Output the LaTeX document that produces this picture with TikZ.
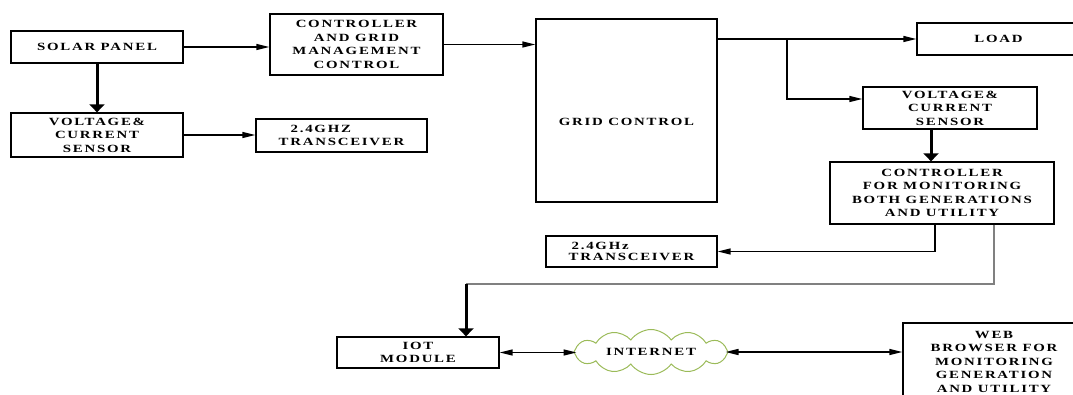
\documentclass[tikz,border=0pt]{standalone}
\usepackage{fontspec}
\setmainfont{Liberation Serif}
\newfontfamily\lblfont{Liberation Serif}[FakeStretch=1.35, LetterSpace=16]
\usetikzlibrary{arrows.meta,shapes.symbols}

\definecolor{cloudgreen}{RGB}{155,187,89}
\definecolor{feedgray}{RGB}{128,128,128}

\tikzset{
  lbl/.style={font=\lblfont\bfseries\fontsize{11}{13.5}\selectfont},
  box/.style={draw, line width=1.3pt, inner sep=0pt, align=center, lbl},
  flow/.style={line width=1.5pt, -{Triangle[length=13pt,width=6pt]}},
  twoway/.style={line width=1.5pt,
    {Triangle[length=13pt,width=6pt]}-{Triangle[length=13pt,width=6pt]}},
  heavy/.style={line width=3pt, -{Triangle[length=8pt,width=15pt]}},
  feed/.style={line width=1.2pt, draw=feedgray},
}

\begin{document}
\begin{tikzpicture}[x=1pt,y=-1pt]
\useasboundingbox (0,0) rectangle (1073,395);

% left column: panel and its sensor chain
\node[box, minimum width=172pt, minimum height=32pt] (solar) at (97,47) {SOLAR PANEL};
\node[box, minimum width=173pt, minimum height=61pt] (ctrl) at (356.5,44.5)
  {CONTROLLER\\AND GRID\\MANAGEMENT\\CONTROL};
\node[box, minimum width=172pt, minimum height=44pt] (sensL) at (97,135)
  {VOLTAGE\&\\CURRENT\\SENSOR};
\node[box, minimum width=171pt, minimum height=33pt, align=left] (txL) at (341.5,135.5)
  {\hspace*{12pt}2.4GHZ\\TRANSCEIVER};

% grid block and its outputs
\node[box, minimum width=181pt, minimum height=183pt] (grid) at (626.5,110.5)
  {\raisebox{-15pt}[0pt][0pt]{GRID CONTROL}};
\node[box, minimum width=163pt, minimum height=32pt] (load) at (998.5,39) {LOAD};
\node[box, minimum width=174pt, minimum height=42pt] (sensR) at (950,108)
  {VOLTAGE\&\\CURRENT\\SENSOR};
\node[box, minimum width=224pt, minimum height=62pt] (mon) at (942,193)
  {CONTROLLER\\FOR MONITORING\\BOTH GENERATIONS\\AND UTILITY};
\node[box, minimum width=171pt, minimum height=31pt, align=left,
  font=\lblfont\bfseries\fontsize{11}{11.5}\selectfont] (txM) at (631.5,251.5)
  {\hspace*{3pt}2.4GHz\\TRANSCEIVER};

% IoT path
\node[box, minimum width=162pt, minimum height=31pt] (iot) at (418,352.5) {IOT\\MODULE};
\node[cloud, cloud puffs=12, cloud puff arc=110, aspect=4.4, draw=cloudgreen, line width=1pt,
  minimum width=154pt, minimum height=36pt, inner sep=0pt, lbl] (net) at (651,352) {INTERNET};
\node[box, minimum width=182pt, minimum height=77pt] (web) at (994,361.5)
  {WEB\\BROWSER FOR\\MONITORING\\GENERATION\\AND UTILITY};

% connectors
\draw[flow] (solar.east) -- (solar.east -| ctrl.west);
\draw[flow] (ctrl.east) -- (ctrl.east -| grid.west);
\draw[heavy] (solar.south) -- (sensL.north);
\draw[flow] (sensL.east) -- (sensL.east -| txL.west);

\draw[flow] (grid.east |- load.west) -- (load.west);
\coordinate (tap) at (787,39);
\draw[flow] (tap) |- ([yshift=9pt]sensR.west);
\draw[heavy] ([xshift=-19pt]sensR.south) -- ([xshift=-19pt]sensR.south |- mon.north);

\draw[flow] ([xshift=-7pt]mon.south) |- (txM.east);

\coordinate (drop) at (466,284);
\draw[feed] ([xshift=52pt]mon.south) |- (drop);
\draw[heavy] (drop) -- (drop |- iot.north);

\draw[twoway] (iot.east) -- ([xshift=3pt]net.west |- iot.east);
\draw[twoway] ([xshift=-3pt]net.east) -- (net.east -| web.west);
\end{tikzpicture}
\end{document}
